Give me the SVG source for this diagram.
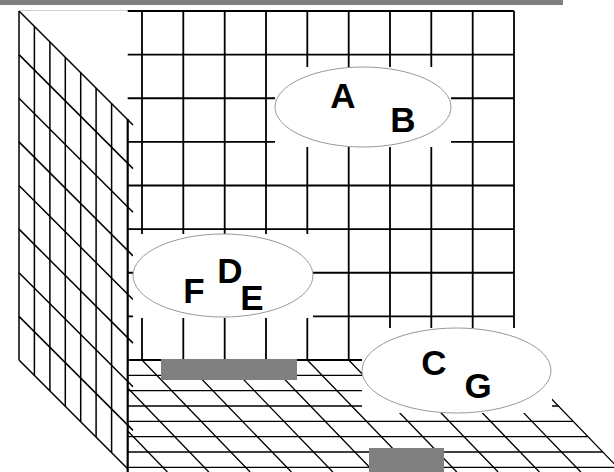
<svg xmlns="http://www.w3.org/2000/svg" width="614" height="472" viewBox="0 0 614 472">
<style>
.bw{stroke:#000;stroke-width:1.8;fill:none}
.sw{stroke:#000;stroke-width:1.5;fill:none}
.fl{stroke:#000;stroke-width:1.3;fill:none}
.edge{stroke:#000;stroke-width:2.2;fill:none}
.mask{fill:#fff;stroke:none}
.ell{fill:#fff;stroke:#999;stroke-width:1}
.lbl{font-family:"Liberation Sans",Arial,sans-serif;font-weight:bold;font-size:35px;fill:#000;text-anchor:middle}
.bar{fill:#808080}
</style>
<rect class="bar" x="0" y="0" width="563" height="5"/>
<line x1="19" y1="10.5" x2="128" y2="10.5" stroke="#d0d0d0" stroke-width="1"/>

<g id="side-wall">
<path class="sw" d="M19,11V360M34.4,26.4V375.4M49.9,41.9V390.9M65.3,57.3V406.3M80.7,72.7V421.7M96.1,88.1V437.1M111.6,103.6V452.6"/>
<path class="sw" d="M19,11L133,125M19,54.6L133,168.6M19,98.25L133,212.25M19,141.9L133,255.9M19,185.5L133,299.5M19,229.1L133,343.1M19,272.75L133,386.75M19,316.4L133,430.4M19,360L127.7,468.7"/>
<path class="edge" d="M127.7,119V472"/>
</g>

<g id="back-wall">
<path class="bw" d="M127.7,11H514M127.7,54.6H514M127.7,98.25H514M127.7,141.9H514M127.7,185.5H514M127.7,229.1H514M127.7,272.75H514M127.7,316.4H514M127.7,360H514"/>
<path class="bw" d="M142,11V360M183.3,11V360M224.7,11V360M266,11V360M307.3,11V360M348.7,11V360M390,11V360M431.3,11V360M472.7,11V360M514,11V360"/>
</g>

<g id="floor">
<path class="fl" d="M127.7,375.3H528.8M127.7,390.7H543.6M127.7,406H558.4M127.7,421.3H573.2M127.7,436.7H588M127.7,452H602.8M127.7,467.3H618"/>
<path class="fl" d="M128,431.2L167.4,472M128,388.3L208.8,472M142,360L250.1,472M183.3,360L291.4,472M224.7,360L332.8,472M266,360L374.1,472M307.3,360L415.4,472M348.7,360L456.8,472M390,360L498.1,472M431.3,360L539.4,472M472.7,360L580.8,472M514,360L622.1,472"/>
</g>

<g id="node-AB">
<rect class="mask" x="275" y="67" width="176" height="80"/>
<ellipse class="ell" cx="363" cy="107" rx="88" ry="40"/>
<text class="lbl" x="343" y="108">A</text>
<text class="lbl" x="403" y="132">B</text>
</g>

<g id="node-FDE">
<rect class="mask" x="133" y="234" width="180" height="84"/>
<ellipse class="ell" cx="223" cy="275.5" rx="90" ry="41.5"/>
<text class="lbl" x="194" y="303">F</text>
<text class="lbl" x="230" y="283">D</text>
<text class="lbl" x="252" y="310">E</text>
</g>

<g id="node-CG">
<rect class="mask" x="362" y="328" width="190" height="85"/>
<ellipse class="ell" cx="456.5" cy="370.5" rx="94.5" ry="42.5"/>
<text class="lbl" x="434" y="375">C</text>
<text class="lbl" x="478" y="398">G</text>
</g>

<g id="bars">
<rect class="bar" x="161" y="359" width="136" height="21"/>
<rect class="bar" x="369" y="448" width="75" height="24"/>
</g>
<g id="connectors"/>
</svg>
